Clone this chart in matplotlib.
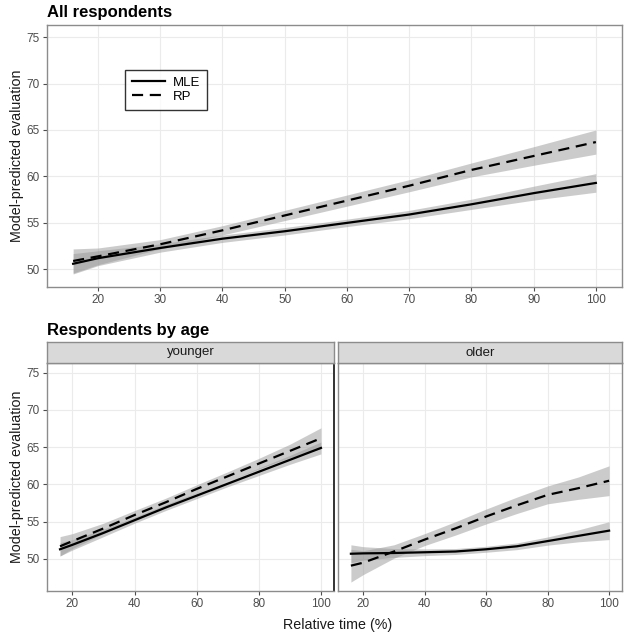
import numpy as np
import matplotlib.pyplot as plt

plt.rcParams['font.family'] = ['Liberation Sans', 'DejaVu Sans']

# ---- data ----
x_all = [16, 20, 30, 40, 50, 60, 70, 80, 90, 100]
mle_all = [50.6, 51.2, 52.3, 53.3, 54.1, 55.0, 55.9, 57.0, 58.2, 59.3]
mle_all_se = [1.1, 0.8, 0.45, 0.4, 0.4, 0.4, 0.45, 0.55, 0.75, 1.0]
rp_all = [50.9, 51.4, 52.7, 54.2, 55.8, 57.4, 59.0, 60.7, 62.2, 63.7]
rp_all_se = [1.3, 0.9, 0.5, 0.5, 0.55, 0.6, 0.65, 0.75, 1.0, 1.3]

x_age = [16, 20, 30, 40, 50, 60, 70, 80, 90, 100]
mle_young = [51.3, 51.9, 53.5, 55.2, 56.9, 58.5, 60.1, 61.7, 63.3, 64.9]
mle_young_se = [0.9, 0.7, 0.5, 0.4, 0.4, 0.4, 0.4, 0.5, 0.6, 0.8]
rp_young = [51.7, 52.4, 54.1, 55.9, 57.6, 59.4, 61.1, 62.8, 64.5, 66.2]
rp_young_se = [1.3, 1.0, 0.7, 0.6, 0.55, 0.55, 0.6, 0.7, 0.9, 1.4]
mle_old = [50.7, 50.75, 50.8, 50.9, 51.0, 51.3, 51.7, 52.4, 53.1, 53.8]
mle_old_se = [1.2, 0.9, 0.6, 0.45, 0.4, 0.4, 0.45, 0.55, 0.8, 1.2]
rp_old = [49.1, 49.5, 51.0, 52.6, 54.1, 55.7, 57.2, 58.6, 59.5, 60.5]
rp_old_se = [2.2, 1.6, 0.9, 0.8, 0.9, 1.0, 1.1, 1.2, 1.5, 2.0]

W, H = 624, 637
fig = plt.figure(figsize=(W / 100, H / 100), dpi=100)

def px(l, t, r, b):
    return [l / W, 1 - b / H, (r - l) / W, (b - t) / H]

BORDER = '#8c8c8c'
TICKC = '#4d4d4d'

def style(ax, xticks, yticks, xlim, ylim):
    ax.set_xlim(*xlim)
    ax.set_ylim(*ylim)
    ax.set_xticks(xticks)
    ax.set_yticks(yticks)
    ax.grid(True, color='#ebebeb', lw=0.8)
    ax.set_axisbelow(True)
    for s in ax.spines.values():
        s.set_color(BORDER)
        s.set_linewidth(1.0)
    ax.tick_params(length=3, width=0.8, color=TICKC, labelcolor=TICKC,
                   labelsize=8.5, pad=2)

def draw(ax, x, m, mse, r, rse):
    x = np.array(x)
    for y, se in ((m, mse), (r, rse)):
        y = np.array(y); se = np.array(se)
        ax.fill_between(x, y - se, y + se, color='#999999', alpha=0.5, lw=0)
    ax.plot(x, m, color='black', lw=1.6, label='MLE')
    ax.plot(x, r, color='black', lw=1.6, dashes=(5, 3), label='RP')

# top panel
ax1 = fig.add_axes(px(47, 25, 622, 287))
draw(ax1, x_all, mle_all, mle_all_se, rp_all, rp_all_se)
style(ax1, range(20, 101, 10), range(50, 76, 5), (11.8, 104.2), (48.1, 76.3))
leg = ax1.legend(loc='upper left', bbox_to_anchor=(0.136, 0.828), borderaxespad=0,
                 fancybox=False, edgecolor='black', fontsize=9.5, handlelength=2.5,
                 labelspacing=0.15, borderpad=0.5, handletextpad=0.6)
leg.get_frame().set_linewidth(1.0)
ax1.set_ylabel('Model-predicted evaluation', fontsize=10.3, color='#1a1a1a')
ax1.yaxis.set_label_coords(-23 / 575, 0.5)

fig.text(47 / W, 1 - 13 / H, 'All respondents', fontsize=12, fontweight='bold',
         va='center', ha='left')
fig.text(47 / W, 1 - 331 / H, 'Respondents by age', fontsize=12, fontweight='bold',
         va='center', ha='left')

# bottom panels
panels = [
    ('younger', px(47, 363, 334, 591), mle_young, mle_young_se, rp_young, rp_young_se),
    ('older', px(338, 363, 622, 591), mle_old, mle_old_se, rp_old, rp_old_se),
]
for i, (name, rect, m, mse, r, rse) in enumerate(panels):
    ax = fig.add_axes(rect)
    draw(ax, x_age, m, mse, r, rse)
    style(ax, range(20, 101, 20), range(50, 76, 5), (11.8, 104.2), (45.7, 76.3))
    if i == 0:
        ax.set_ylabel('Model-predicted evaluation', fontsize=10.3, color='#1a1a1a')
        ax.yaxis.set_label_coords(-23 / 287, 0.5)
        ax.spines['right'].set_color('#333333')
        ax.spines['right'].set_linewidth(1.4)
    else:
        ax.tick_params(labelleft=False, left=False)
    # strip
    l, b, w, h = rect
    sax = fig.add_axes([l, b + h, w, 21 / H])
    sax.set_xticks([]); sax.set_yticks([])
    sax.set_facecolor('#d9d9d9')
    for s in sax.spines.values():
        s.set_color(BORDER)
        s.set_linewidth(1.0)
    sax.text(0.5, 0.5, name, ha='center', va='center', fontsize=9.5, color='#1a1a1a',
             transform=sax.transAxes)

fig.text(338 / W, 1 - 625 / H, 'Relative time (%)', fontsize=10.3, ha='center',
         va='center', color='#1a1a1a')

fig.savefig('out.png', dpi=100)
